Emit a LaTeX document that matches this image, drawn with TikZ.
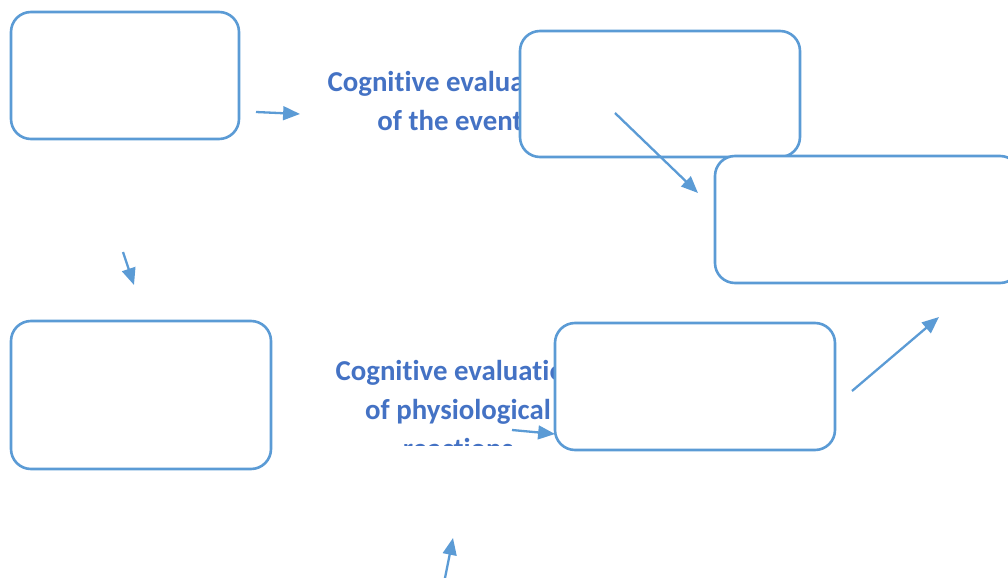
\documentclass[tikz,border=0pt]{standalone}
\usepackage{fontspec}
\setmainfont{Carlito}[Ligatures=NoCommon]
\usepackage{xcolor}
\definecolor{shapeblue}{RGB}{91, 155, 213}
\definecolor{textblue}{RGB}{68, 114, 196}
\usetikzlibrary{arrows.meta}
\newlength{\pxu}
\setlength{\pxu}{0.025cm}

\begin{document}
\begin{tikzpicture}[x=0.025cm, y=-0.025cm,
        box/.style={rectangle, draw=shapeblue, fill=white, rounded corners=20\pxu, line width=2.6\pxu, inner sep=0pt},
        evaltext/.style={text=textblue, font=\bfseries\fontsize{20.5}{28}\selectfont, align=center, inner sep=0pt, anchor=north},
        link/.style={draw=shapeblue, line width=1.64pt, -{Triangle[length=12pt, width=9.8pt]}}]

        \useasboundingbox (0,0) rectangle (1008,578);
        \clip (0,0) rectangle (1008,578);

        % texts behind the boxes
        \node [evaltext] (evalevent) at (450,70.5) {Cognitive evaluation\\of the event};
        \begin{scope}
            \clip (300,330) rectangle (620,445);
            \node [evaltext] (evalphys) at (458,359.5) {Cognitive evaluation\\of physiological\\reactions};
        \end{scope}

        % boxes
        \node [box, minimum width=228\pxu, minimum height=127\pxu] (event) at (125,75.5) {};
        \node [box, minimum width=280\pxu, minimum height=126\pxu] (appraisal) at (660,94) {};
        \node [box, minimum width=305\pxu, minimum height=127\pxu] (emotion) at (867.5,219.5) {};
        \node [box, minimum width=260\pxu, minimum height=148\pxu] (arousal) at (141,395) {};
        \node [box, minimum width=280\pxu, minimum height=127\pxu] (label) at (695,386.5) {};

        % arrows
        \coordinate (e1) at (256,112);  \coordinate (e2) at (300,114);
        \coordinate (d1) at (123,252);  \coordinate (d2) at (134,285);
        \coordinate (a1) at (615,113);  \coordinate (a2) at (698,193);
        \coordinate (u1) at (852,391);  \coordinate (u2) at (939,317);
        \coordinate (p1) at (512,430);  \coordinate (p2) at (555,434);
        \coordinate (c1) at (445,578);  \coordinate (c2) at (453,538);
        \path [link] (e1) -- (e2);
        \path [link] (d1) -- (d2);
        \path [link] (a1) -- (a2);
        \path [link] (u1) -- (u2);
        \path [link] (p1) -- (p2);
        \path [link] (c1) -- (c2);
\end{tikzpicture}
\end{document}
